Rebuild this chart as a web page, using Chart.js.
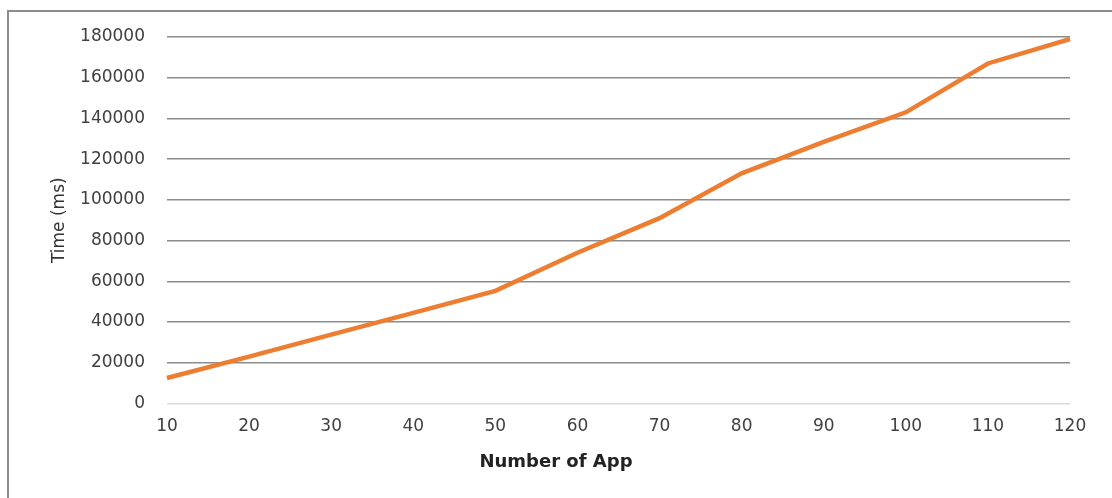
<!DOCTYPE html>
<html>
<head>
<meta charset="utf-8">
<script src="https://cdn.jsdelivr.net/npm/chart.js@4/dist/chart.umd.min.js"></script>
<style>
    html, body { margin: 0; padding: 0; background: #fff; overflow: hidden; }
    #wrap { position: relative; width: 1112px; height: 498px; }
    #frame {
        position: absolute; left: 7px; top: 10px; width: 2000px; height: 2000px;
        border: 2px solid #8c8c8c; box-sizing: border-box;
    }
    canvas { position: absolute; left: 0; top: 0; }
</style>
</head>
<body>
<div id="wrap">
    <div id="frame"></div>
    <canvas id="lineChart" width="1112" height="498"></canvas>
</div>
<script>
// 데이터
const appCounts = ['10', '20', '30', '40', '50', '60', '70', '80', '90', '100', '110', '120'];
const timeMs = [12500, 23000, 33800, 44500, 55300, 74000, 91000, 113000, 128500, 143000, 167000, 179000];
const yTicks = [0, 20000, 40000, 60000, 80000, 100000, 120000, 140000, 160000, 180000];

const tickFont = { family: 'DejaVu Sans', size: 17 };

const ctx = document.getElementById('lineChart').getContext('2d');

new Chart(ctx, {
    type: 'line',
    data: {
        labels: appCounts,
        datasets: [{
            label: 'Time',
            data: timeMs,
            borderColor: '#ED7D31',
            borderWidth: 4.5,
            pointRadius: 0,
            tension: 0,
            fill: false,
        }]
    },
    options: {
        responsive: false,
        animation: false,
        layout: { padding: { top: 37, left: 0, right: 0, bottom: 0 } },
        plugins: {
            legend: { display: false },
            tooltip: { enabled: false },
            // x축 제목은 캔버스 중앙에 오도록 title 플러그인 사용
            title: {
                display: true,
                position: 'bottom',
                text: 'Number of App',
                color: '#222',
                font: { family: 'DejaVu Sans', size: 18, weight: 'bold' },
                padding: { top: 0, bottom: 25 },
            },
        },
        scales: {
            x: {
                grid: { display: false, drawTicks: false },
                border: { display: false },
                ticks: { color: '#404040', font: tickFont, padding: 13, maxRotation: 0 },
                afterFit: (scale) => { scale.height = 48; },
            },
            y: {
                min: 0,
                max: 180000,
                afterBuildTicks: (scale) => { scale.ticks = yTicks.map(v => ({ value: v })); },
                grid: {
                    drawTicks: false,
                    lineWidth: 1.5,
                    color: (c) => c.tick && c.tick.value === 0 ? '#d9d9d9' : '#8c8c8c',
                },
                border: { display: false },
                ticks: {
                    color: '#404040',
                    font: tickFont,
                    padding: 22,
                    callback: (value) => String(value), // 쉼표 없이 표시
                },
                title: {
                    display: true,
                    text: 'Time (ms)',
                    color: '#333',
                    font: { family: 'DejaVu Sans', size: 17 },
                    padding: { top: 49, bottom: 0 },
                },
                afterFit: (scale) => { scale.width = 167; },
            },
            // 오른쪽 여백용 빈 축
            yRight: {
                position: 'right',
                display: true,
                grid: { display: false },
                border: { display: false },
                ticks: { display: false },
                afterFit: (scale) => { scale.width = 42; },
            },
        },
    },
});
</script>
</body>
</html>
